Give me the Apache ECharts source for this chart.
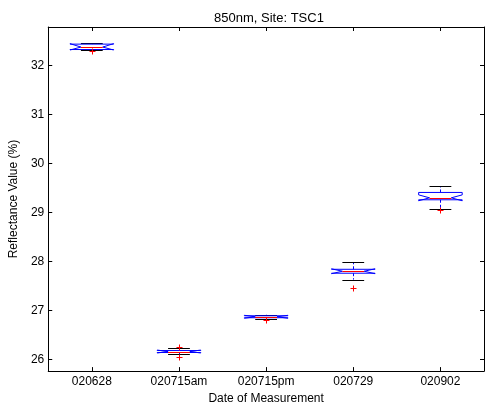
<!DOCTYPE html>
<html>
<head>
<meta charset="utf-8">
<script src="https://cdn.jsdelivr.net/npm/echarts@6/dist/echarts.min.js"></script>
<style>html,body{margin:0;padding:0;background:#fff}#c{width:485px;height:410px}</style>
</head>
<body>
<div id="c"></div>
<script>
const categories = ['020628', '020715am', '020715pm', '020729', '020902'];
const lowerWhisker = [32.31, 26.10, 26.82, 27.63, 29.08];
const q1Values     = [32.33, 26.14, 26.85, 27.76, 29.26];
const medianValues = [32.38, 26.16, 26.87, 27.80, 29.30];
const q3Values     = [32.44, 26.18, 26.89, 27.84, 29.41];
const upperWhisker = [32.46, 26.23, 26.91, 27.98, 29.54];
const notchLow     = [32.32, 26.13, 26.84, 27.75, 29.24];
const notchHigh    = [32.45, 26.19, 26.90, 27.85, 29.36];
const outlierCats  = [0, 1, 1, 2, 3, 4];
const outlierVals  = [32.30, 26.26, 26.05, 26.80, 27.46, 29.06];
const yTicks = [26, 27, 28, 29, 30, 31, 32];

const boxData = categories.map((c, i) => [i, q1Values[i], medianValues[i], q3Values[i], notchLow[i], notchHigh[i], lowerWhisker[i], upperWhisker[i]]);
const outlierData = outlierCats.map((c, i) => [c, outlierVals[i]]);

const font = 'Liberation Sans, Arial, Helvetica, sans-serif';
const cr = v => Math.round(v) + 0.5;

function renderBox(params, api) {
  const x = api.value(0);
  const q1 = api.value(1), med = api.value(2), q3 = api.value(3);
  const n1 = api.value(4), n2 = api.value(5), lo = api.value(6), hi = api.value(7);
  const cx = api.coord([x, med])[0];
  const band = api.size([1, 0])[0];
  const w = band * 0.25;
  const y = v => api.coord([x, v])[1];
  const L = cx - w, R = cx + w, nL = cx - w / 2, nR = cx + w / 2;
  const pts = [[L, y(q1)], [R, y(q1)], [R, y(n1)], [nR, y(med)], [R, y(n2)], [R, y(q3)],
               [L, y(q3)], [L, y(n2)], [nL, y(med)], [L, y(n1)], [L, y(q1)]];
  const xc = cr(cx);
  return {
    type: 'group',
    children: [
      { type: 'line', shape: { x1: xc, y1: y(q3), x2: xc, y2: y(hi) }, style: { stroke: '#0000ff', lineWidth: 1, lineDash: [3, 2] } },
      { type: 'line', shape: { x1: xc, y1: y(q1), x2: xc, y2: y(lo) }, style: { stroke: '#0000ff', lineWidth: 1, lineDash: [3, 2] } },
      { type: 'line', shape: { x1: cx - w / 2, y1: cr(y(hi)), x2: cx + w / 2, y2: cr(y(hi)) }, style: { stroke: '#000', lineWidth: 1 } },
      { type: 'line', shape: { x1: cx - w / 2, y1: cr(y(lo)), x2: cx + w / 2, y2: cr(y(lo)) }, style: { stroke: '#000', lineWidth: 1 } },
      { type: 'polyline', shape: { points: pts }, style: { stroke: '#0000ff', lineWidth: 1, fill: null } },
      { type: 'line', shape: { x1: nL, y1: cr(y(med)), x2: nR, y2: cr(y(med)) }, style: { stroke: '#ff0000', lineWidth: 1 } }
    ]
  };
}

function renderOutlier(params, api) {
  const p = api.coord([api.value(0), api.value(1)]);
  const x = cr(p[0]), y = cr(p[1]), s = 3;
  return {
    type: 'group',
    children: [
      { type: 'line', shape: { x1: x - s, y1: y, x2: x + s, y2: y }, style: { stroke: '#ff0000', lineWidth: 1 } },
      { type: 'line', shape: { x1: x, y1: y - s, x2: x, y2: y + s }, style: { stroke: '#ff0000', lineWidth: 1 } }
    ]
  };
}

const chart = echarts.init(document.getElementById('c'), null, { renderer: 'canvas' });
const axisLineStyle = { show: true, lineStyle: { color: '#000', width: 1 } };
chart.setOption({
  animation: false,
  backgroundColor: '#fff',
  title: {
    text: '850nm, Site: TSC1', left: 264, top: 7, textAlign: 'center',
    textStyle: { fontFamily: font, fontSize: 13, fontWeight: 'normal', color: '#000' }
  },
  grid: { left: 45, right: 1, top: 27, bottom: 35, containLabel: false },
  xAxis: [
    {
      type: 'category', data: categories, position: 'bottom', boundaryGap: true,
      axisLine: axisLineStyle,
      axisTick: { show: true, inside: true, length: 4, alignWithLabel: true, lineStyle: { color: '#000' } },
      axisLabel: { color: '#000', fontFamily: font, fontSize: 12, margin: 5 },
      splitLine: { show: false },
      name: 'Date of Measurement', nameLocation: 'middle', nameGap: 21,
      nameTextStyle: { color: '#000', fontFamily: font, fontSize: 12 }
    },
    {
      type: 'category', data: categories, position: 'top', boundaryGap: true,
      axisLine: axisLineStyle,
      axisTick: { show: true, inside: true, length: 4, alignWithLabel: true, lineStyle: { color: '#000' } },
      axisLabel: { show: false }, splitLine: { show: false }
    }
  ],
  yAxis: [
    {
      type: 'value', min: 25.76, max: 32.79, position: 'left',
      axisLine: axisLineStyle,
      axisTick: { show: true, inside: true, length: 4, customValues: yTicks, lineStyle: { color: '#000' } },
      axisLabel: { color: '#000', fontFamily: font, fontSize: 12, margin: 4, customValues: yTicks },
      splitLine: { show: false },
      name: 'Reflectance Value (%)', nameLocation: 'middle', nameGap: 19, nameRotate: 90,
      nameTextStyle: { color: '#000', fontFamily: font, fontSize: 12 }
    },
    {
      type: 'value', min: 25.76, max: 32.79, position: 'right',
      axisLine: axisLineStyle,
      axisTick: { show: true, inside: true, length: 4, customValues: yTicks, lineStyle: { color: '#000' } },
      axisLabel: { show: false, customValues: yTicks }, splitLine: { show: false }
    }
  ],
  series: [
    { type: 'custom', xAxisIndex: 0, yAxisIndex: 0, renderItem: renderBox, data: boxData, clip: false, silent: true },
    { type: 'custom', xAxisIndex: 0, yAxisIndex: 0, renderItem: renderOutlier, data: outlierData, clip: false, silent: true }
  ]
});
</script>
</body>
</html>
